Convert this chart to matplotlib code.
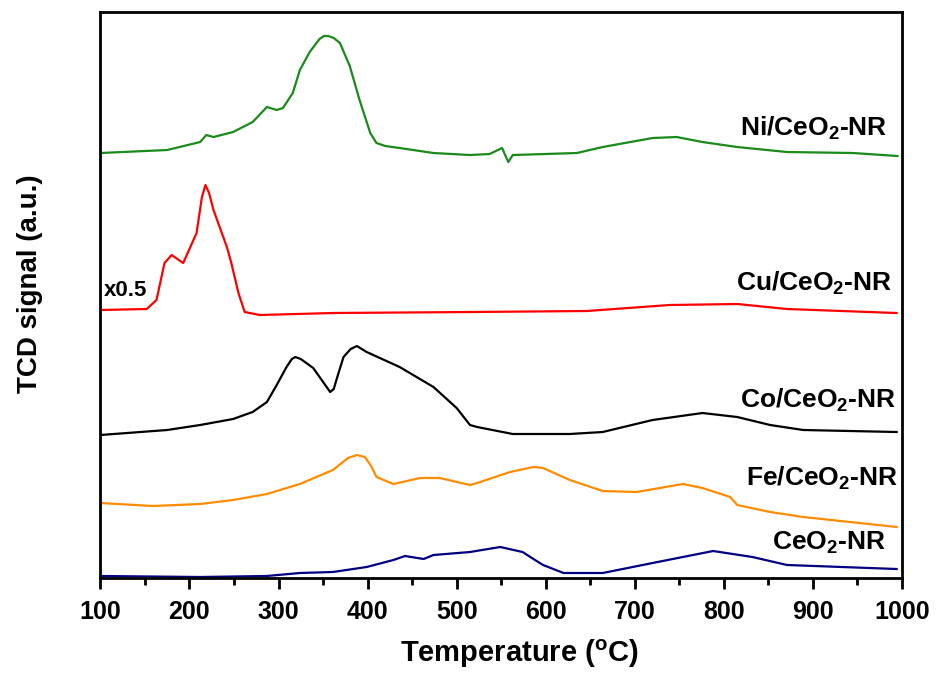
"""H2-TPR profiles of ceria nanorods with and without transition metal loading."""
import matplotlib.pyplot as plt
import matplotlib.ticker as mticker

plt.rcParams["font.family"] = ["Liberation Sans", "DejaVu Sans"]
plt.rcParams["font.weight"] = "bold"
plt.rcParams["mathtext.default"] = "regular"

# ── profiles: temperature (°C) vs TCD signal (a.u., stacked offsets included) ──
ni_temp = [100, 175, 212, 219, 227, 249, 271, 287, 298, 305, 316, 324, 335, 346,
           351, 356, 362, 369, 380, 391, 403, 410, 420, 436, 474, 515, 537, 551,
           558, 563, 635, 664, 720, 747, 776, 815, 871, 945, 995]
ni_sig = [425, 428, 436, 443, 441, 446, 456, 471, 468, 470, 485, 508, 526, 539,
          542, 542, 540, 535, 512, 478, 445, 435, 432, 430, 425, 423, 424, 430,
          416, 423, 425, 431, 440, 441, 436, 431, 426, 425, 422]

cu_temp = [100, 152, 163, 172, 180, 193, 201, 208, 214, 218, 222, 227, 242, 247,
           255, 262, 279, 361, 515, 646, 739, 815, 871, 994]
cu_sig = [268, 269, 278, 315, 323, 315, 331, 345, 381, 393, 385, 368, 331, 315,
          285, 266, 263, 265, 266, 267, 273, 274, 269, 265]

co_temp = [100, 175, 212, 249, 271, 287, 298, 309, 315, 319, 325, 339, 358, 362,
           366, 373, 381, 388, 399, 436, 474, 500, 515, 523, 563, 627, 664, 720,
           776, 815, 852, 889, 994]
co_sig = [143, 148, 153, 159, 166, 176, 193, 211, 219, 221, 219, 210, 186, 189,
          201, 221, 229, 232, 226, 211, 191, 170, 153, 151, 144, 144, 146, 158,
          165, 161, 153, 148, 146]

fe_temp = [100, 159, 212, 249, 287, 324, 361, 378, 388, 397, 404, 410, 429, 459,
           481, 515, 523, 560, 586, 597, 627, 664, 702, 754, 776, 807, 815, 852,
           889, 994]
fe_sig = [75, 72, 74, 78, 84, 94, 108, 120, 123, 121, 112, 101, 94, 100,
          100, 93, 95, 106, 111, 110, 98, 87, 86, 94, 90, 81, 73, 66,
          61, 51]

ce_temp = [100, 212, 287, 324, 361, 399, 429, 442, 463, 474, 515, 549, 574, 588,
           597, 620, 664, 720, 788, 832, 871, 994]
ce_sig = [2, 1, 2, 5, 6, 11, 18, 22, 19, 23, 26, 31, 26, 18,
          13, 5, 5, 15, 27, 21, 13, 9]

SERIES = [
    (ni_temp, ni_sig, "#1a8a1a", "Ni/CeO$_2$-NR", 984, 450),
    (cu_temp, cu_sig, "#ff0000", "Cu/CeO$_2$-NR", 989, 295),
    (co_temp, co_sig, "#000000", "Co/CeO$_2$-NR", 993, 178),
    (fe_temp, fe_sig, "#ff8c00", "Fe/CeO$_2$-NR", 995, 100),
    (ce_temp, ce_sig, "#000080", "CeO$_2$-NR", 982, 35),
]

fig = plt.figure(figsize=(9.38, 6.75), dpi=100)
ax = fig.add_axes([0.107, 0.1437, 0.8546, 0.8385])

for temp, sig, color, label, lx, ly in SERIES:
    ax.plot(temp, sig, color=color, lw=1.6)
    ax.text(lx, ly, label, ha="right", va="center", fontsize=19,
            fontweight="bold")

ax.text(104, 288, "x0.5", ha="left", va="center", fontsize=16, fontweight="bold")

ax.set_xlim(100, 1000)
ax.set_ylim(0, 566)
ax.set_yticks([])
ax.xaxis.set_major_locator(mticker.MultipleLocator(100))
ax.xaxis.set_minor_locator(mticker.MultipleLocator(50))
ax.tick_params(axis="x", which="major", direction="out", length=8, width=2,
               labelsize=18, pad=8)
ax.tick_params(axis="x", which="minor", direction="out", length=5, width=2)
for lbl in ax.get_xticklabels():
    lbl.set_fontweight("bold")
for spine in ax.spines.values():
    spine.set_linewidth(2)

ax.set_xlabel("Temperature ($^{o}$C)", fontsize=21, fontweight="bold")
ax.xaxis.set_label_coords(0.523, -0.105)
ax.set_ylabel("TCD signal (a.u.)", fontsize=20, fontweight="bold")
ax.yaxis.set_label_coords(-0.071, 0.52)

fig.savefig("out.png", dpi=100)
plt.close(fig)
